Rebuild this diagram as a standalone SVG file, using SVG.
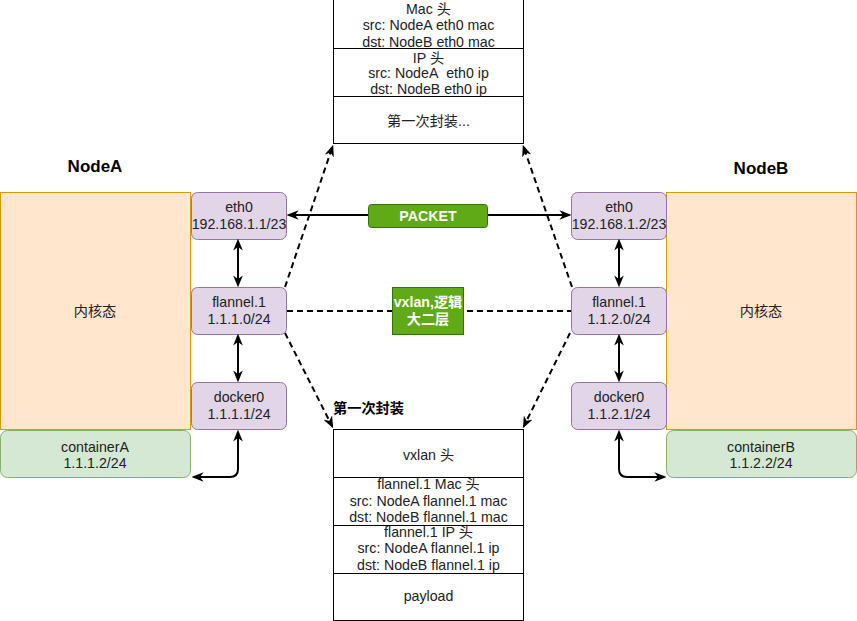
<svg xmlns="http://www.w3.org/2000/svg" width="857" height="621" viewBox="0 0 857 621">
<style>
text{font-family:"Liberation Sans",Arial,"Noto Sans CJK SC",sans-serif;font-size:14.2px;fill:#222;text-anchor:middle}
.iface{fill:#e1d5e7;stroke:#9673a6;stroke-width:1}
.kern{fill:#ffe6cc;stroke:#d79b00;stroke-width:1}
.cont{fill:#d5e8d4;stroke:#82b366;stroke-width:1}
.tbl{fill:#fff;stroke:#000;stroke-width:1}
.grn{fill:#60a917;stroke:#2d7600;stroke-width:1}
.wt{fill:#fff;font-weight:bold}
.title{font-weight:bold;font-size:17px;fill:#000}
.solid{stroke:#000;stroke-width:2;fill:none}
.dash{stroke:#000;stroke-width:2;fill:none;stroke-dasharray:6 4}
</style>
<defs>
<marker id="arr" viewBox="0 0 10 10" refX="8" refY="5" markerWidth="12" markerHeight="12" markerUnits="userSpaceOnUse" orient="auto-start-reverse">
<path d="M0,1 L10,5 L0,9 L3,5 z" fill="#000"/>
</marker>
</defs>

<text class="title" x="95" y="172">NodeA</text>
<text class="title" x="761" y="174">NodeB</text>

<g id="kernelA"><rect class="kern" x="0.5" y="192.5" width="190" height="237"/><text x="95" y="316">内核态</text></g>
<g id="containerA"><rect class="cont" x="0.5" y="430.5" width="190" height="47" rx="7"/><text x="95" y="452">containerA</text><text x="95" y="468">1.1.1.2/24</text></g>
<g id="eth0A"><rect class="iface" x="191.5" y="192.5" width="95" height="47" rx="6"/><text x="239" y="212">eth0</text><text x="239" y="229">192.168.1.1/23</text></g>
<g id="flannelA"><rect class="iface" x="191.5" y="287.5" width="95" height="47" rx="6"/><text x="239" y="307">flannel.1</text><text x="239" y="324">1.1.1.0/24</text></g>
<g id="dockerA"><rect class="iface" x="191.5" y="382.5" width="95" height="47" rx="6"/><text x="239" y="402">docker0</text><text x="239" y="419">1.1.1.1/24</text></g>

<g id="kernelB"><rect class="kern" x="666.5" y="192.5" width="190" height="237"/><text x="761" y="316">内核态</text></g>
<g id="containerB"><rect class="cont" x="666.5" y="430.5" width="190" height="47" rx="7"/><text x="761" y="452">containerB</text><text x="761" y="468">1.1.2.2/24</text></g>
<g id="eth0B"><rect class="iface" x="571.5" y="192.5" width="95" height="47" rx="6"/><text x="619" y="212">eth0</text><text x="619" y="229">192.168.1.2/23</text></g>
<g id="flannelB"><rect class="iface" x="571.5" y="287.5" width="95" height="47" rx="6"/><text x="619" y="307">flannel.1</text><text x="619" y="324">1.1.2.0/24</text></g>
<g id="dockerB"><rect class="iface" x="571.5" y="382.5" width="95" height="47" rx="6"/><text x="619" y="402">docker0</text><text x="619" y="419">1.1.2.1/24</text></g>

<g id="topTable">
<rect class="tbl" x="333.5" y="-1" width="190" height="144.5"/>
<line class="tbl" x1="333.5" y1="48.5" x2="523.5" y2="48.5"/>
<line class="tbl" x1="333.5" y1="96.5" x2="523.5" y2="96.5"/>
<text x="428.5" y="14">Mac 头</text>
<text x="428.5" y="30">src: NodeA eth0 mac</text>
<text x="428.5" y="47">dst: NodeB eth0 mac</text>
<text x="428.5" y="63">IP 头</text>
<text x="428.5" y="78">src: NodeA&#160; eth0 ip</text>
<text x="428.5" y="94">dst: NodeB eth0 ip</text>
<text x="428.5" y="126">第一次封装...</text>
</g>

<g id="bottomTable">
<rect class="tbl" x="333.5" y="429.5" width="190" height="191"/>
<line class="tbl" x1="333.5" y1="477.5" x2="523.5" y2="477.5"/>
<line class="tbl" x1="333.5" y1="525.5" x2="523.5" y2="525.5"/>
<line class="tbl" x1="333.5" y1="573.5" x2="523.5" y2="573.5"/>
<text x="428.5" y="460">vxlan 头</text>
<text x="428.5" y="489">flannel.1 Mac 头</text>
<text x="428.5" y="506">src: NodeA flannel.1 mac</text>
<text x="428.5" y="522">dst: NodeB flannel.1 mac</text>
<text x="428.5" y="537">flannel.1 IP 头</text>
<text x="428.5" y="553">src: NodeA flannel.1 ip</text>
<text x="428.5" y="570">dst: NodeB flannel.1 ip</text>
<text x="428.5" y="601">payload</text>
</g>

<g id="connectors">
<line class="solid" x1="289" y1="215" x2="569" y2="215" marker-start="url(#arr)" marker-end="url(#arr)"/>
<line class="dash" x1="287" y1="311" x2="571" y2="311"/>
<line class="solid" x1="238" y1="241" x2="238" y2="285" marker-start="url(#arr)" marker-end="url(#arr)"/>
<line class="solid" x1="238" y1="336" x2="238" y2="380" marker-start="url(#arr)" marker-end="url(#arr)"/>
<path class="solid" d="M238,432 V469 Q238,477 230,477 H194" marker-start="url(#arr)" marker-end="url(#arr)"/>
<line class="solid" x1="619" y1="241" x2="619" y2="285" marker-start="url(#arr)" marker-end="url(#arr)"/>
<line class="solid" x1="619" y1="336" x2="619" y2="380" marker-start="url(#arr)" marker-end="url(#arr)"/>
<path class="solid" d="M619,432 V469 Q619,477 627,477 H664" marker-start="url(#arr)" marker-end="url(#arr)"/>
<line class="dash" x1="285" y1="287" x2="332.4" y2="146.9" marker-end="url(#arr)"/>
<line class="dash" x1="285" y1="333" x2="332.1" y2="426.2" marker-end="url(#arr)"/>
<line class="dash" x1="572" y1="287" x2="523.6" y2="146.9" marker-end="url(#arr)"/>
<line class="dash" x1="570" y1="333" x2="523.9" y2="426.2" marker-end="url(#arr)"/>
</g>

<g id="packetLabel"><rect class="grn" x="368.5" y="204.5" width="119" height="23" rx="3"/><text class="wt" x="428" y="221">PACKET</text></g>
<g id="vxlanLabel"><rect class="grn" x="392.5" y="287.5" width="71" height="47"/><text class="wt" x="428" y="307">vxlan,逻辑</text><text class="wt" x="428" y="324">大二层</text></g>
<text x="333" y="413" style="text-anchor:start;font-weight:bold;fill:#000">第一次封装</text>
</svg>
